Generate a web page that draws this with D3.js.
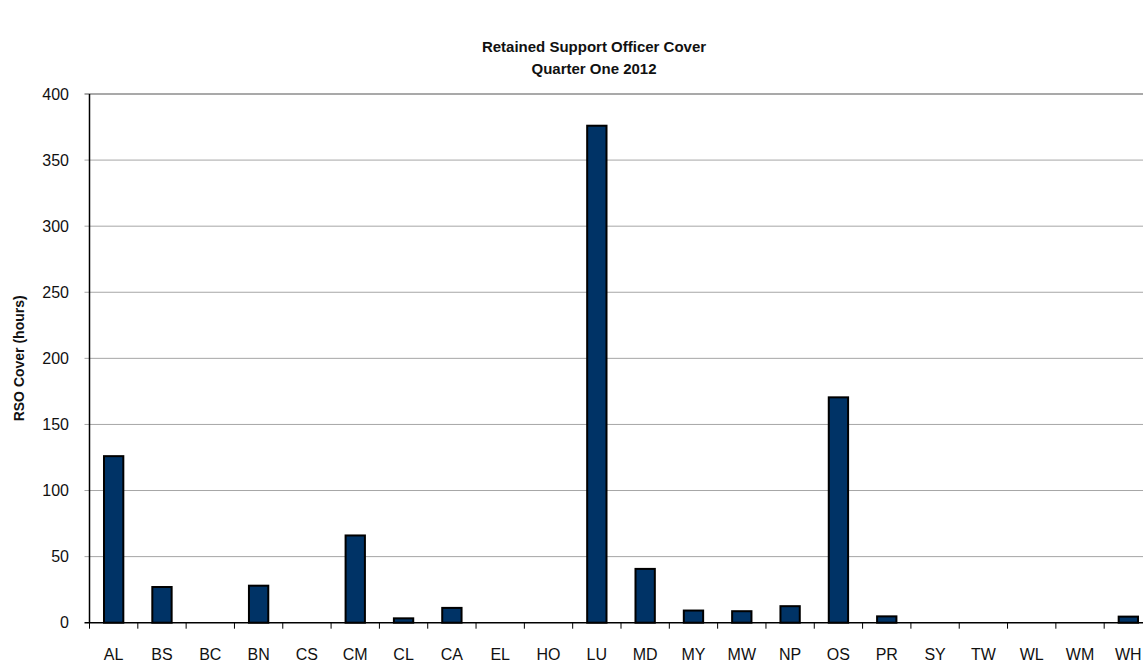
<!DOCTYPE html>
<html>
<head>
<meta charset="utf-8">
<script src="https://cdn.jsdelivr.net/npm/d3@7"></script>
<style>
  body { margin: 0; background: #fff; }
  svg { font-family: Arial, "Liberation Sans", sans-serif; }
</style>
</head>
<body>
<div id="chart"></div>
<script>
var categories = ["AL", "BS", "BC", "BN", "CS", "CM", "CL", "CA", "EL", "HO", "LU",
                  "MD", "MY", "MW", "NP", "OS", "PR", "SY", "TW", "WL", "WM", "WH"];
var coverHours = [126, 27, 0, 28, 0, 66, 3.3, 11.2, 0, 0, 376,
                  40.7, 9.2, 8.7, 12.5, 170.5, 4.8, 0, 0, 0, 0, 4.6];
var yTicks = [0, 50, 100, 150, 200, 250, 300, 350, 400];
var titleLines = ["Retained Support Officer Cover", "Quarter One 2012"];
var yLabel = "RSO Cover (hours)";

var width = 1143;
var height = 664;
// plot area (right edge runs past the window, as in the original)
var plotLeft = 89.5, plotRight = 1152.5, plotTop = 94, plotBottom = 622.7;

var svg = d3.select("#chart").append("svg")
    .attr("width", width)
    .attr("height", height);

var x = d3.scaleBand()
    .domain(categories)
    .range([plotLeft, plotRight])
    .paddingInner(0.6)
    .paddingOuter(0.3);

var y = d3.scaleLinear()
    .domain([0, 400])
    .range([plotBottom, plotTop]);

// gridlines
svg.append("g").selectAll("line")
    .data(yTicks.filter(d => d > 0)).enter().append("line")
    .attr("x1", plotLeft - 5).attr("x2", plotRight)
    .attr("y1", d => y(d)).attr("y2", d => y(d))
    .style("stroke", d => d == 400 ? "#8c8c8c" : "#a6a6a6")
    .style("stroke-width", d => d == 400 ? 1.6 : 1);

// y tick labels
svg.append("g").selectAll("text")
    .data(yTicks).enter().append("text")
    .attr("x", 69)
    .attr("y", d => y(d) + 5.5)
    .attr("text-anchor", "end")
    .style("font-size", "16px")
    .style("fill", "#111")
    .text(d => d);

// bars
svg.append("g").selectAll("rect")
    .data(categories.filter((d, i) => coverHours[i] > 0)).enter().append("rect")
    .attr("x", d => x(d))
    .attr("width", x.bandwidth())
    .attr("y", d => y(coverHours[categories.indexOf(d)]))
    .attr("height", d => plotBottom - y(coverHours[categories.indexOf(d)]))
    .style("fill", "#003366")
    .style("stroke", "#000")
    .style("stroke-width", 2);

// x axis + ticks at band edges
var offset = (x.step() - x.bandwidth()) / 2;
svg.append("line")
    .attr("x1", plotLeft - 5).attr("x2", plotRight)
    .attr("y1", plotBottom).attr("y2", plotBottom)
    .style("stroke", "#000").style("stroke-width", 1.5);
svg.append("g").selectAll("line")
    .data(categories).enter().append("line")
    .attr("x1", d => x(d) - offset).attr("x2", d => x(d) - offset)
    .attr("y1", plotBottom).attr("y2", plotBottom + 6)
    .style("stroke", "#000").style("stroke-width", 1);

// y axis
svg.append("line")
    .attr("x1", plotLeft).attr("x2", plotLeft)
    .attr("y1", plotTop).attr("y2", plotBottom)
    .style("stroke", "#000").style("stroke-width", 1.5);

// x labels
svg.append("g").selectAll("text")
    .data(categories).enter().append("text")
    .attr("x", d => x(d) + x.bandwidth() / 2)
    .attr("y", 660)
    .attr("text-anchor", "middle")
    .style("font-size", "16px")
    .style("fill", "#111")
    .text(d => d);

// title
svg.append("g").selectAll("text")
    .data(titleLines).enter().append("text")
    .attr("x", 594)
    .attr("y", (d, i) => 52 + i * 22)
    .attr("text-anchor", "middle")
    .style("font-size", "15px")
    .style("font-weight", "bold")
    .style("fill", "#111")
    .text(d => d);

// y label
svg.append("text")
    .attr("transform", "translate(24," + ((plotTop + plotBottom) / 2) + ") rotate(-90)")
    .attr("text-anchor", "middle")
    .style("font-size", "14px")
    .style("font-weight", "bold")
    .style("fill", "#111")
    .text(yLabel);
</script>
</body>
</html>
